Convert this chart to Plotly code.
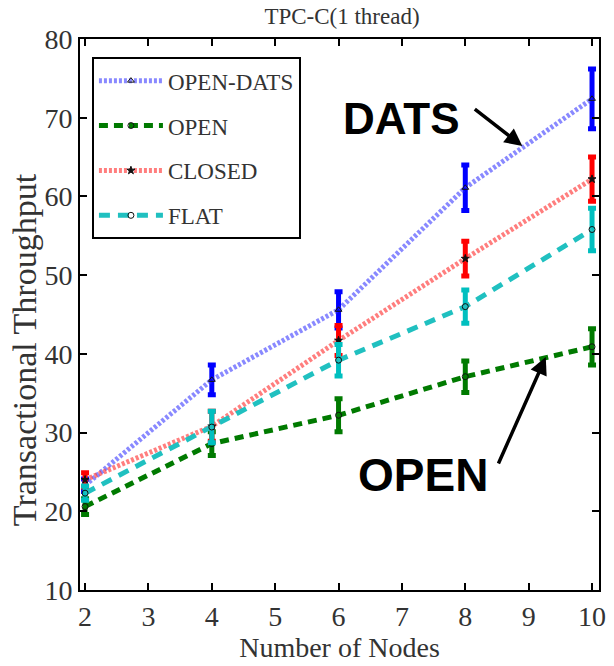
import plotly.graph_objects as go

# Number of nodes in the cluster
nodes = [2, 4, 6, 8, 10]

# Mean transactional throughput and error (half-width) per protocol
open_dats = [23.3, 36.7, 45.6, 61.1, 72.4]
open_dats_err = [0.8, 1.9, 2.3, 2.9, 3.8]

open_ = [20.6, 28.6, 32.2, 37.1, 40.9]
open_err = [1.0, 1.5, 2.1, 2.0, 2.3]

closed = [24.0, 30.8, 41.7, 52.1, 62.2]
closed_err = [0.9, 1.9, 1.9, 2.2, 2.8]

flat = [22.3, 30.7, 39.2, 46.0, 55.8]
flat_err = [0.9, 2.0, 2.0, 2.1, 2.7]

x_ticks = [2, 3, 4, 5, 6, 7, 8, 9, 10]
y_ticks = [10, 20, 30, 40, 50, 60, 70, 80]

SERIF = "Liberation Serif"

series = [
    ("OPEN-DATS", open_dats, open_dats_err, "rgba(40,40,255,0.55)", "#0000ff", "3px,2px", 5, "triangle-up-open"),
    ("OPEN", open_, open_err, "#007a00", "#007a00", "9px,6px", 5, "circle-open"),
    ("CLOSED", closed, closed_err, "rgba(255,40,40,0.6)", "#ff0000", "3px,2px", 5, "star"),
    ("FLAT", flat, flat_err, "#20c0c0", "#00bfbf", "11px,8px", 5, "circle-open"),
]

fig = go.Figure()
for name, y, err, line_col, bar_col, dash, lw, sym in series:
    fig.add_trace(go.Scatter(
        x=nodes, y=y, name=name, legendgroup=name, mode="lines+markers",
        line=dict(color=line_col, dash=dash, width=lw),
        marker=dict(symbol=sym, size=6, color="#111",
                    line=dict(color="#111", width=1)),
        error_y=dict(type="data", array=err, visible=True,
                     color=bar_col, thickness=5, width=4),
    ))

axis_common = dict(
    showline=True, linecolor="black", linewidth=2, mirror="ticks",
    ticks="inside", ticklen=7, tickwidth=1.5, tickcolor="black",
    showgrid=False, zeroline=False,
    tickfont=dict(family=SERIF, size=28, color="#333"),
)

fig.update_xaxes(range=[1.92, 10.11], tickvals=x_ticks,
                 title=dict(text="Number of Nodes", standoff=4,
                            font=dict(family=SERIF, size=28, color="#333")),
                 **axis_common)
fig.update_yaxes(range=[10, 80], tickvals=y_ticks, **axis_common)

# Vertical axis caption
fig.add_annotation(x=-0.108, y=0.437, xref="paper", yref="paper",
                   text="Transactional Throughput", textangle=-90,
                   showarrow=False, xanchor="center", yanchor="middle",
                   font=dict(family=SERIF, size=34, color="#333"))

# Callouts pointing at the two highlighted curves
fig.add_annotation(x=8.9, y=66.4, xref="x", yref="y", text="",
                   showarrow=True, arrowhead=2, arrowsize=1, arrowwidth=3.5,
                   arrowcolor="black", ax=-49, ay=-38)
fig.add_annotation(x=7.0, y=69.95, xref="x", yref="y", text="<b>DATS</b>",
                   showarrow=False,
                   font=dict(family="Liberation Sans", size=44, color="black"))
fig.add_annotation(x=9.27, y=39.6, xref="x", yref="y", text="",
                   showarrow=True, arrowhead=2, arrowsize=1, arrowwidth=3.5,
                   arrowcolor="black", ax=-48, ay=108)
fig.add_annotation(x=7.33, y=24.6, xref="x", yref="y", text="<b>OPEN</b>",
                   showarrow=False,
                   font=dict(family="Liberation Sans", size=46, color="black"))

fig.update_layout(
    width=614, height=666,
    margin=dict(l=80, r=8, t=39, b=76),
    paper_bgcolor="white", plot_bgcolor="white",
    title=dict(text="TPC-C(1 thread)", x=0.557, xanchor="center",
               y=0.976, yanchor="middle",
               font=dict(family=SERIF, size=23, color="#333")),
    legend=dict(x=0.023, y=0.967, xanchor="left", yanchor="top",
                bgcolor="white", bordercolor="black", borderwidth=2,
                font=dict(family=SERIF, size=23, color="#333"),
                itemwidth=64, tracegroupgap=12),
    showlegend=True,
)

fig.write_html("out.html")
